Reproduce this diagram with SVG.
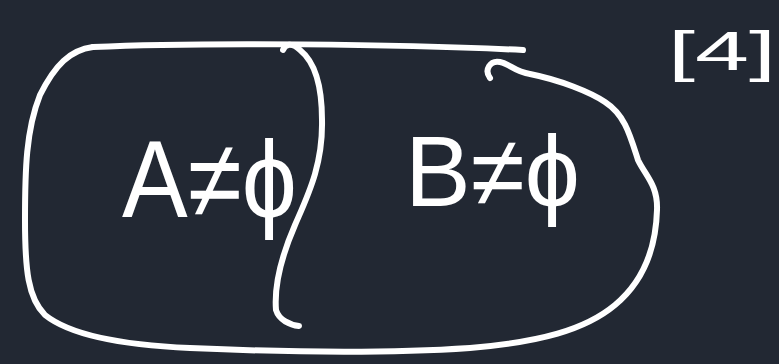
<svg xmlns="http://www.w3.org/2000/svg" width="779" height="364" viewBox="0 0 779 364">
<style>
.ink{fill:none;stroke:#ffffff;stroke-width:6;stroke-linecap:round;stroke-linejoin:round}
.hand{fill:#ffffff;font-family:"Liberation Sans","DejaVu Sans",sans-serif}
</style>
<rect width="779" height="364" fill="#222833"/>
<g id="outline">
<path class="ink" d="M93,47 C200,42 400,44 523,50"/>
<path class="ink" d="M490,78 C484,70 490,60 500,62 C510,64 515,72 530,74 C560,80 590,92 605,102 C625,115 630,135 638,160 C645,175 658,185 657,210 C656,245 645,280 615,305 C585,330 540,342 470,348 C380,354 280,352 190,348 C120,345 70,335 45,315 C28,298 25,270 25,220 C25,170 26,130 40,95 C55,65 70,50 93,47"/>
</g>
<g id="divider">
<path class="ink" d="M283,50 C285,44 292,42 300,50 C315,62 322,85 322,120 C323,165 308,195 295,225 C282,255 274,285 276,310 C279,320 290,325 299,326"/>
</g>
<g id="labelA">
<text class="hand" x="122" y="217" font-size="110" textLength="175" lengthAdjust="spacingAndGlyphs">A≠ϕ</text>
</g>
<g id="labelB">
<text class="hand" x="405" y="206" font-size="100" textLength="175" lengthAdjust="spacingAndGlyphs">B≠ϕ</text>
</g>
<g id="number">
<text class="hand" x="668" y="70" font-size="56" textLength="108" lengthAdjust="spacingAndGlyphs">[4]</text>
</g>
</svg>
